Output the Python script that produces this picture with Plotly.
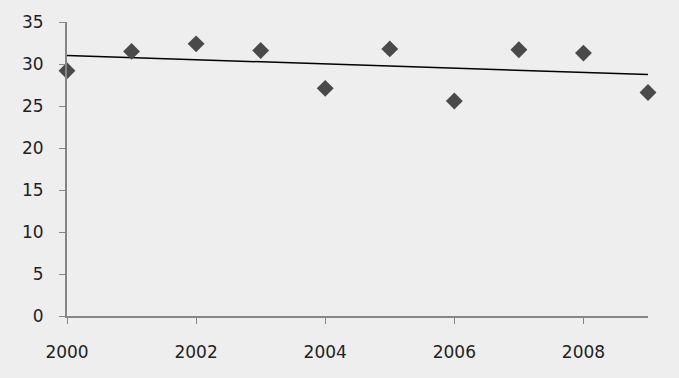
import numpy as np
import plotly.graph_objects as go

years = [2000, 2001, 2002, 2003, 2004, 2005, 2006, 2007, 2008, 2009]
values = [29.2, 31.5, 32.4, 31.6, 27.1, 31.8, 25.6, 31.7, 31.3, 26.6]
y_ticks = [0, 5, 10, 15, 20, 25, 30, 35]
x_ticks = [2000, 2002, 2004, 2006, 2008]

# linear trend line (least squares)
slope, intercept = np.polyfit(years, values, 1)
trend_x = [years[0], years[-1]]
trend_y = [slope * x + intercept for x in trend_x]

bg = "#eeeeee"
axis_col = "#868686"
font = dict(family="DejaVu Sans", size=17, color="#222222")

fig = go.Figure()
fig.add_trace(go.Scatter(x=trend_x, y=trend_y, mode="lines",
                         line=dict(color="black", width=1.5),
                         showlegend=False, hoverinfo="skip"))
fig.add_trace(go.Scatter(x=years, y=values, mode="markers",
                         marker=dict(symbol="diamond", size=13, color="#4a4a4a",
                                     line=dict(width=0)),
                         showlegend=False, cliponaxis=False))

fig.update_layout(
    width=679, height=378,
    margin=dict(l=67, r=31, t=22, b=62),
    paper_bgcolor=bg, plot_bgcolor=bg,
    font=font,
)
fig.update_xaxes(range=[2000, 2009], tickvals=x_ticks, ticktext=[str(t) for t in x_ticks],
                 showgrid=False, zeroline=False, showline=True, linecolor=axis_col, linewidth=2,
                 ticks="outside", ticklen=6, tickcolor=axis_col, tickwidth=1,
                 ticklabelstandoff=14)
fig.update_yaxes(range=[0, 35], tickvals=y_ticks, ticktext=[str(t) for t in y_ticks],
                 showgrid=False, zeroline=False, showline=True, linecolor=axis_col, linewidth=2,
                 ticks="outside", ticklen=6, tickcolor=axis_col, tickwidth=1,
                 ticklabelstandoff=12)

fig.write_html("out.html", config={"displayModeBar": False},
               post_script="document.body.style.margin='0';document.body.style.background='#eeeeee';")
